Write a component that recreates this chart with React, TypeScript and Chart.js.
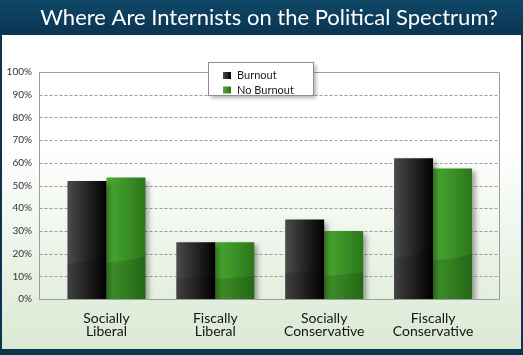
import React, { useEffect, useRef } from "react";
import { Chart, registerables } from "chart.js";

Chart.register(...registerables);

const TITLE = "Where Are Internists on the Political Spectrum?";
const categories: string[][] = [
  ["Socially", "Liberal"],
  ["Fiscally", "Liberal"],
  ["Socially", "Conservative"],
  ["Fiscally", "Conservative"],
];
const seriesNames = ["Burnout", "No Burnout"];
const burnout = [52, 25, 35, 62];
const noBurnout = [53.5, 25, 30, 57.5];
const yMin = 0;
const yMax = 100;
const yStep = 10;

const W = 523;
const H = 355;
const CAT_PCT = 0.716;
const FONT = "Lato, 'DejaVu Sans', sans-serif";

const NAVY_TOP = "#0f4867";
const NAVY_BOT = "#0a3450";
const FRAME_GRAY = "#9c9c9c";

const SERIES_COLORS = [
  ["#4b4b4d", "#000000"],
  ["#4aab31", "#2b761b"],
];

function barFill(c: any, ds: number) {
  const chart = c.chart;
  const xs = chart.scales && chart.scales.x;
  const area = chart.chartArea;
  if (!xs || !area || c.dataIndex === undefined) return SERIES_COLORS[ds][1];
  const center = xs.getPixelForValue(c.dataIndex);
  const cw = (area.right - area.left) / categories.length;
  const bw = (cw * CAT_PCT) / 2;
  const x0 = ds === 0 ? center - bw : center;
  const g = chart.ctx.createLinearGradient(x0, 0, x0 + bw, 0);
  g.addColorStop(0, SERIES_COLORS[ds][0]);
  g.addColorStop(1, SERIES_COLORS[ds][1]);
  return g;
}

const framePlugin = {
  id: "frame",
  beforeDraw(chart: any) {
    const ctx = chart.ctx;
    ctx.save();
    const bg = ctx.createLinearGradient(0, 35, 0, 349);
    bg.addColorStop(0, "#ffffff");
    bg.addColorStop(0.35, "#ffffff");
    bg.addColorStop(1, "#dae9d3");
    ctx.fillStyle = bg;
    ctx.fillRect(0, 0, W, H);
    const tb = ctx.createLinearGradient(0, 0, 0, 35);
    tb.addColorStop(0, NAVY_TOP);
    tb.addColorStop(1, NAVY_BOT);
    ctx.fillStyle = tb;
    ctx.fillRect(0, 0, W, 35);
    ctx.fillStyle = NAVY_BOT;
    ctx.fillRect(0, 35, 2, H - 35);
    ctx.fillRect(W - 2, 35, 2, H - 35);
    ctx.fillRect(0, 349, W, H - 349);
    ctx.fillStyle = "#ffffff";
    ctx.font = "22px " + FONT;
    ctx.textAlign = "center";
    ctx.textBaseline = "middle";
    ctx.fillText(TITLE, 269, 18);
    ctx.restore();
  },
  beforeDatasetsDraw(chart: any) {
    const ctx = chart.ctx;
    const ys = chart.scales.y;
    const left = 39.5;
    const right = 499.5;
    ctx.save();
    ctx.strokeStyle = FRAME_GRAY;
    ctx.lineWidth = 1;
    ctx.setLineDash([3, 2]);
    for (let v = yMin + yStep; v < yMax; v += yStep) {
      const y = Math.round(ys.getPixelForValue(v)) + 0.5;
      ctx.beginPath();
      ctx.moveTo(left, y);
      ctx.lineTo(right, y);
      ctx.stroke();
    }
    ctx.setLineDash([]);
    const top = Math.round(ys.getPixelForValue(yMax)) + 0.5;
    const bot = Math.round(ys.getPixelForValue(yMin)) + 0.5;
    ctx.strokeStyle = FRAME_GRAY;
    ctx.beginPath();
    ctx.rect(left, top, right - left, bot - top);
    ctx.stroke();
    ctx.restore();
    // shadow for bars
    ctx.save();
    ctx.shadowColor = "rgba(0,0,0,0.35)";
    ctx.shadowBlur = 5;
    ctx.shadowOffsetX = 4;
    ctx.shadowOffsetY = 3;
  },
  afterDatasetsDraw(chart: any) {
    const ctx = chart.ctx;
    ctx.restore();
    ctx.save();
    chart.data.datasets.forEach((_: any, di: number) => {
      const meta = chart.getDatasetMeta(di);
      meta.data.forEach((el: any) => {
        const l = el.x - el.width / 2;
        const r = el.x + el.width / 2;
        const h = el.base - el.y;
        const hl = h * 0.25 + 6;
        const hr = h * 0.3 + 6;
        ctx.fillStyle = "rgba(0,0,0,0.13)";
        ctx.beginPath();
        ctx.moveTo(l, el.base);
        ctx.lineTo(l, el.base - hl);
        ctx.quadraticCurveTo((l + r) / 2, el.base - hl - 1, r, el.base - hr);
        ctx.lineTo(r, el.base);
        ctx.closePath();
        ctx.fill();
      });
    });
    ctx.restore();
  },
  afterDraw(chart: any) {
    const ctx = chart.ctx;
    ctx.save();
    const bx = 208.5;
    const by = 62.5;
    const bw = 105;
    const bh = 33;
    ctx.shadowColor = "rgba(0,0,0,0.3)";
    ctx.shadowBlur = 4;
    ctx.shadowOffsetX = 2;
    ctx.shadowOffsetY = 2;
    ctx.fillStyle = "#ffffff";
    ctx.fillRect(bx, by, bw, bh);
    ctx.shadowColor = "transparent";
    ctx.strokeStyle = "#8e8e8e";
    ctx.lineWidth = 1;
    ctx.strokeRect(bx, by, bw, bh);
    ctx.font = "11px " + FONT;
    ctx.textAlign = "left";
    ctx.textBaseline = "middle";
    seriesNames.forEach((name, i) => {
      const yc = 75.5 + i * 14.5;
      const g = ctx.createLinearGradient(223, 0, 231, 0);
      g.addColorStop(0, SERIES_COLORS[i][0]);
      g.addColorStop(1, SERIES_COLORS[i][1]);
      ctx.fillStyle = g;
      ctx.fillRect(223, yc - 3.5, 8, 7);
      ctx.fillStyle = "#1a1a1a";
      ctx.fillText(name, 237, yc);
    });
    ctx.restore();
  },
};

export default function App() {
  const ref = useRef<HTMLCanvasElement | null>(null);
  useEffect(() => {
    if (!ref.current) return;
    const chart = new Chart(ref.current, {
      type: "bar",
      data: {
        labels: categories,
        datasets: [
          {
            label: seriesNames[0],
            data: burnout,
            backgroundColor: (c: any) => barFill(c, 0),
            borderWidth: 0,
            categoryPercentage: CAT_PCT,
            barPercentage: 1,
          },
          {
            label: seriesNames[1],
            data: noBurnout,
            backgroundColor: (c: any) => barFill(c, 1),
            borderWidth: 0,
            categoryPercentage: CAT_PCT,
            barPercentage: 1,
          },
        ],
      },
      options: {
        responsive: false,
        animation: false,
        events: [],
        layout: { padding: { top: 72, right: 35.5, bottom: 0, left: 0 } },
        plugins: {
          legend: { display: false },
          title: { display: false },
          tooltip: { enabled: false },
        },
        scales: {
          x: {
            grid: { display: false },
            border: { display: false },
            ticks: {
              color: "#141414",
              padding: 5,
              maxRotation: 0,
              autoSkip: false,
              font: { family: FONT, size: 14, lineHeight: 0.95 },
            },
            afterFit: (s: any) => {
              s.height = 56;
            },
          },
          y: {
            min: yMin,
            max: yMax,
            grid: { display: false },
            border: { display: false },
            ticks: {
              stepSize: yStep,
              padding: 12,
              color: "#333333",
              font: { family: FONT, size: 10 },
              callback: (v: any) => v + "%",
            },
            afterFit: (s: any) => {
              s.width = 52;
            },
          },
        },
      },
      plugins: [framePlugin],
    });
    return () => chart.destroy();
  }, []);
  return (
    <div style={{ position: "absolute", left: 0, top: 0, width: W, height: H }}>
      <canvas ref={ref} width={W} height={H} style={{ display: "block" }} />
    </div>
  );
}
